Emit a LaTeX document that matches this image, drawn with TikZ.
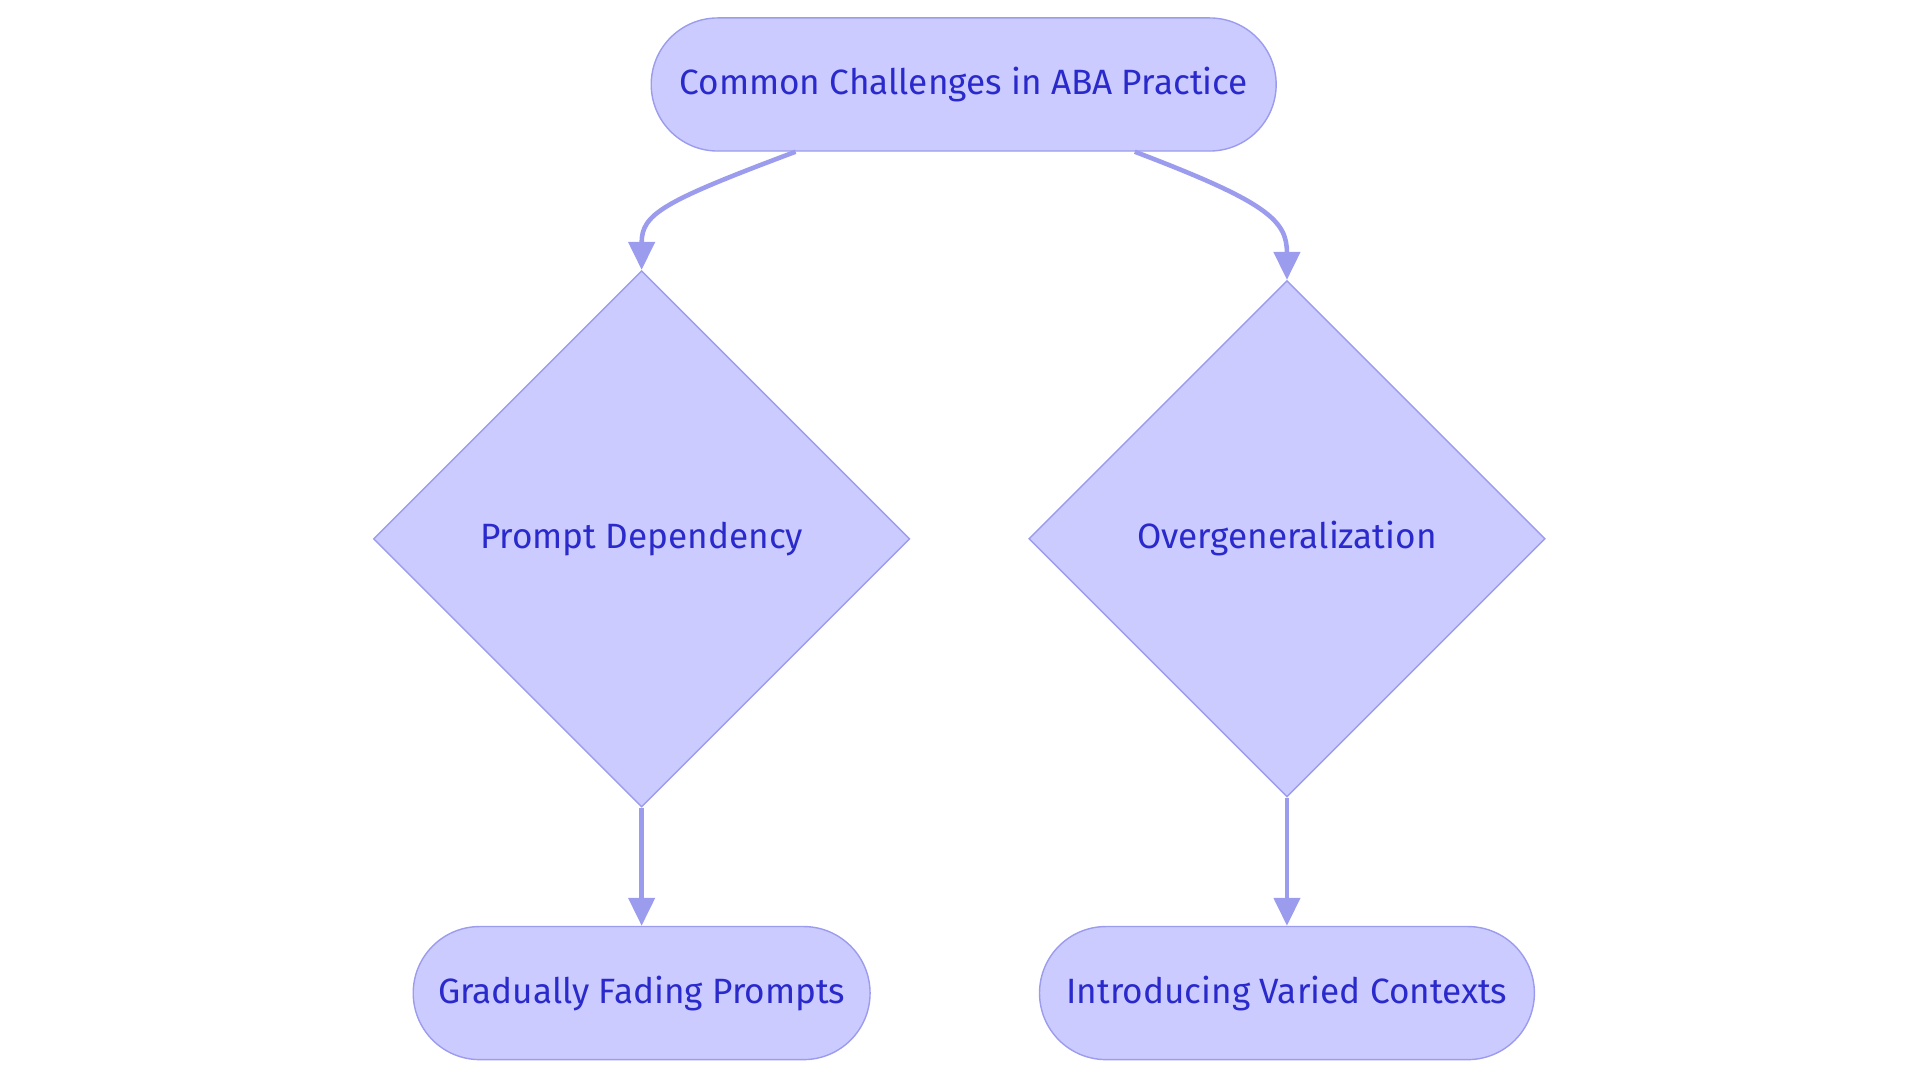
\documentclass[tikz,border=0pt]{standalone}
\usepackage{fontspec}
\setmainfont{Fira Sans}
\usetikzlibrary{shapes.geometric,arrows.meta}
\definecolor{boxfill}{HTML}{CBCBFF}
\definecolor{boxline}{HTML}{9C9CEE}
\definecolor{boxtext}{HTML}{2A2ACC}
\tikzset{pill/.style={rounded rectangle,draw=boxline,fill=boxfill,text=boxtext,
  minimum height=1.33cm,font=\fontsize{10}{12}\selectfont}}
\tikzset{dmnd/.style={diamond,draw=boxline,fill=boxfill,text=boxtext,inner sep=0pt,
  font=\fontsize{10}{12}\selectfont}}
\tikzset{link/.style={-{Triangle[length=0.28cm,width=0.26cm]},boxline,line width=1.3pt}}
\usetikzlibrary{shapes.misc}
\begin{document}
\begin{tikzpicture}[x=0.012245cm,y=-0.012245cm]
  \useasboundingbox (0,0) rectangle (1568,884);
  % nodes
  \node[pill,minimum width=6.48cm] (top) at (787,69) {Common Challenges in ABA Practice};
  \node[dmnd,minimum width=5.36cm,minimum height=5.36cm] (prompt) at (524,440) {Prompt Dependency};
  \node[dmnd,minimum width=5.16cm,minimum height=5.16cm] (overgen) at (1051,440) {Overgeneralization};
  \node[pill,minimum width=4.80cm] (fading) at (524,811) {Gradually Fading Prompts};
  \node[pill,minimum width=5.18cm] (varied) at (1051,811) {Introducing Varied Contexts};
  % connectors
  \draw[link] ([xshift=-1.68cm]top.south) .. controls (540,165) and (524,175) .. (prompt.north);
  \draw[link] ([xshift=1.71cm]top.south) .. controls (1035,165) and (1051,180) .. (overgen.north);
  \draw[link] (prompt.south) -- (fading.north);
  \draw[link] (overgen.south) -- (varied.north);
\end{tikzpicture}
\end{document}
